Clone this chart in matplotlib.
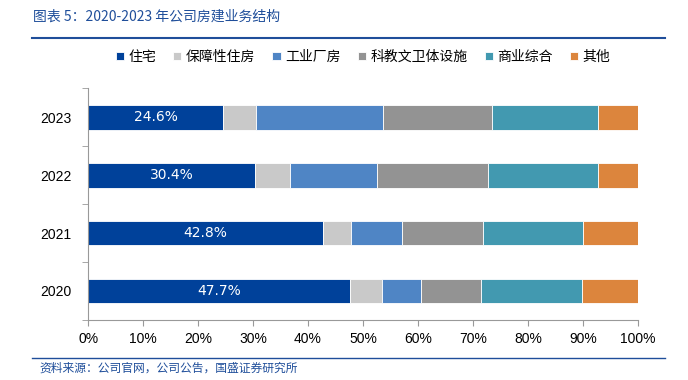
import numpy as np
import matplotlib.pyplot as plt

plt.rcParams['font.family'] = ['Noto Sans CJK SC', 'DejaVu Sans']

# ---------------------------------
# Datos
# ---------------------------------
years = ['2020', '2021', '2022', '2023']
series_names = ['住宅', '保障性住房', '工业厂房', '科教文卫体设施', '商业综合', '其他']
zhuzhai = [47.7, 42.8, 30.4, 24.6]
baozhang = [5.7, 5.0, 6.4, 5.9]
gongye = [7.2, 9.3, 15.8, 23.1]
kejiao = [10.9, 14.8, 20.2, 19.9]
shangye = [18.3, 18.1, 20.0, 19.3]
qita = [10.2, 10.0, 7.2, 7.2]

colors = ['#00419A', '#C9C9C9', '#4F85C5', '#939393', '#4299B0', '#DC853D']

# ---------------------------------
# Gráfico
# ---------------------------------
fig = plt.figure(figsize=(6.88, 3.8), dpi=100)
ax = fig.add_axes([0.128, 0.158, 0.799, 0.61])

y = np.arange(len(years))
left = np.zeros(len(years))
for name, vals, c in zip(series_names,
                         [zhuzhai, baozhang, gongye, kejiao, shangye, qita],
                         colors):
    vals = np.array(vals)
    ax.barh(y, vals, left=left, height=0.43, color=c, edgecolor='white',
            linewidth=0.6, label=name)
    left += vals

# etiquetas de 住宅
for yi, v in zip(y, zhuzhai):
    ax.text(v / 2, yi, f'{v:.1f}%', ha='center', va='center',
            color='white', fontsize=10, family=['DejaVu Sans'])

ax.set_xlim(0, 100)
ax.set_ylim(-0.5, 3.5)
ax.set_xticks(np.arange(0, 101, 10))
ax.set_xticklabels([f'{v}%' for v in range(0, 101, 10)])
ax.set_yticks(y)
ax.set_yticklabels(years)
ax.set_yticks(np.arange(-0.5, 3.6, 1), minor=True)
ax.tick_params(axis='y', which='major', length=0, pad=12)
ax.tick_params(axis='y', which='minor', length=4, color='#999999')
ax.tick_params(axis='x', length=4, color='#999999', pad=5)
ax.tick_params(labelsize=10)
for lab in ax.get_xticklabels() + ax.get_yticklabels():
    lab.set_family(['Liberation Sans', 'DejaVu Sans'])

for s in ['top', 'right']:
    ax.spines[s].set_visible(False)
ax.spines['left'].set_color('#999999')
ax.spines['bottom'].set_color('#999999')

ax.legend(loc='center', bbox_to_anchor=(0.5, 1.135), ncol=6, frameon=False,
          fontsize=10, handlelength=0.6, handleheight=0.6, columnspacing=1.25,
          handletextpad=0.3)

# titulo y fuente
fig.text(0.048, 0.955, '图表 5：2020-2023 年公司房建业务结构', fontsize=10,
         color='#1F4E9A', style='italic', va='center')
fig.add_artist(plt.Line2D([0.046, 0.967], [0.9, 0.9], color='#1F4E9A', lw=1.5))
fig.add_artist(plt.Line2D([0.046, 0.967], [0.058, 0.058], color='#1F4E9A', lw=1))
fig.text(0.058, 0.032, '资料来源：公司官网，公司公告，国盛证券研究所', fontsize=8.5,
         color='#1F4E9A', style='italic', va='center')

fig.savefig('out.png', dpi=100)
